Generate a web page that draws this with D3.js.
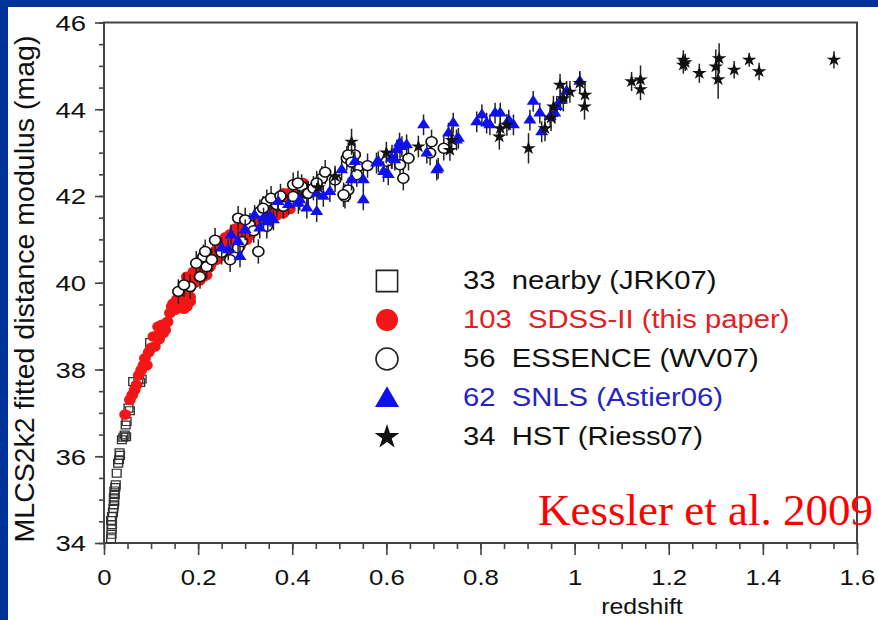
<!DOCTYPE html>
<html>
<head>
  <meta charset="utf-8">
  <title>Hubble diagram - Kessler et al. 2009</title>
  <style>
  body { margin: 0; background: #003399; }
  svg text { font-family: "Liberation Sans", Arial, Helvetica, sans-serif; fill: #111; }
  .tick line { stroke: #444; stroke-width: 1.6px; }
  .domain { display: none; }
  </style>
</head>
<body>
<svg width="878" height="620"></svg>
<script src="https://cdnjs.cloudflare.com/ajax/libs/d3/7.8.5/d3.min.js"></script>
<script>

// ---- data: [redshift, distance modulus] ----
var nearby = [
  [0.015,34.10],[0.016,34.20],[0.016,34.32],[0.017,34.42],[0.015,34.52],[0.017,34.61],[0.019,34.70],
  [0.020,34.80],[0.021,34.88],[0.022,34.96],[0.021,35.04],[0.023,35.12],[0.022,35.20],[0.024,35.28],
  [0.025,35.34],[0.027,35.61],[0.030,35.84],[0.032,35.92],[0.034,36.02],[0.033,36.08],[0.038,36.38],
  [0.041,36.44],[0.044,36.49],[0.047,36.45],[0.048,36.80],[0.046,36.72],[0.052,37.11],[0.055,37.05],
  [0.062,37.72],[0.073,37.76],[0.080,37.78],[0.077,37.70],[0.098,38.62]
];

var sdss = [
  [0.045,36.96],[0.055,37.30],[0.060,37.41],[0.065,37.53],[0.069,37.64],[0.074,37.87],[0.079,37.99],
  [0.084,38.10],[0.087,38.26],[0.091,38.10],[0.105,38.76],[0.108,38.53],[0.115,38.99],[0.119,38.88],
  [0.126,38.84],[0.130,38.91],[0.123,39.03],[0.144,39.45],[0.151,39.38],[0.158,39.53],[0.165,39.45],
  [0.183,39.57],[0.168,39.60],[0.176,39.45],[0.183,39.67],[0.176,40.14],[0.183,40.07],[0.193,40.00],
  [0.197,40.23],[0.208,40.30],[0.211,40.14],[0.218,40.18],[0.225,40.37],[0.218,40.46],[0.239,40.53],
  [0.246,40.60],[0.253,40.99],[0.261,40.91],[0.264,40.76],[0.271,40.99],[0.282,41.06],[0.293,41.06],
  [0.300,41.18],[0.307,41.29],[0.314,41.29],[0.317,41.18],[0.303,40.99],[0.289,40.84],[0.328,41.37],
  [0.331,41.53],[0.353,41.60],[0.381,41.60],[0.388,41.76],[0.392,42.06],[0.402,41.99],[0.423,42.30],
  [0.420,42.06],[0.381,42.06],[0.385,41.91],
  [0.135,39.10],[0.140,39.30],[0.147,39.52],[0.155,39.62],[0.162,39.58],[0.170,39.40],[0.172,39.72],
  [0.180,39.85],[0.186,40.10],[0.190,40.25],[0.195,40.12],[0.200,40.34],[0.203,40.05],[0.206,40.22],
  [0.214,40.30],[0.221,40.55],[0.228,40.45],[0.232,40.70],[0.236,40.62],[0.242,40.85],[0.249,40.78],
  [0.256,40.70],[0.258,41.05],[0.266,40.88],[0.268,41.12],[0.276,41.02],[0.279,41.25],[0.285,41.15],
  [0.296,41.35],[0.310,41.10],[0.322,41.40],[0.336,41.45],[0.342,41.62],[0.348,41.48],[0.360,41.70],
  [0.366,41.55],[0.372,41.82],[0.395,41.70],[0.405,42.20],[0.412,42.12],[0.100,38.50],[0.095,38.40],
  [0.117,38.70],[0.128,39.00]
];

var essence = [
  [0.158,39.80],[0.183,39.91],[0.204,40.14],[0.211,40.60],[0.215,40.72],[0.218,40.37],[0.229,40.53],
  [0.268,40.53],[0.285,40.80],[0.293,40.95],[0.310,41.33],[0.285,41.49],[0.328,40.72],[0.346,41.30],
  [0.346,41.87],[0.331,41.64],[0.367,41.80],[0.381,41.76],[0.402,42.26],[0.420,42.22],[0.431,42.06],
  [0.434,42.06],[0.445,42.18],[0.463,42.41],[0.402,41.99],[0.491,42.37],[0.512,41.99],[0.516,42.87],
  [0.533,42.95],[0.540,42.68],[0.537,42.49],[0.519,42.14],[0.601,42.80],[0.629,42.72],[0.636,42.41],
  [0.647,42.87],[0.696,43.25],[0.693,42.99],[0.509,42.03],[0.519,42.95],
  [0.170,39.95],[0.196,40.45],[0.236,40.98],[0.250,40.70],[0.300,41.45],[0.318,41.20],[0.338,41.72],
  [0.355,41.95],[0.375,42.00],[0.412,42.30],[0.452,42.30],[0.470,42.55],[0.526,42.78],[0.560,42.70],
  [0.612,42.90],[0.722,43.10]
];

var snls = [
  [0.250,40.80],[0.264,40.76],[0.285,40.95],[0.289,40.60],[0.331,41.26],[0.339,41.49],[0.353,41.53],
  [0.360,41.45],[0.370,41.87],[0.413,41.83],[0.431,41.72],[0.452,41.64],[0.452,42.06],[0.466,41.99],
  [0.416,41.91],[0.505,42.60],[0.526,42.37],[0.533,42.79],[0.551,42.37],[0.551,41.91],[0.583,42.79],
  [0.594,42.56],[0.604,42.49],[0.611,42.87],[0.622,43.06],[0.633,43.14],[0.643,43.18],[0.618,42.83],
  [0.679,43.64],[0.686,42.99],[0.707,42.60],[0.732,43.45],[0.742,43.68],[0.753,43.33],[0.792,43.71],
  [0.803,43.87],[0.813,43.68],[0.820,43.64],[0.831,43.91],[0.842,43.91],[0.870,43.64],[0.905,43.75],
  [0.912,44.18],[0.926,43.91],[0.930,43.48],[0.948,43.83],[0.958,43.91],[0.962,44.06],[0.983,44.41],
  [1.011,44.64],
  [0.270,41.10],[0.300,41.22],[0.320,41.55],[0.348,41.40],[0.392,41.80],[0.480,42.10],[0.579,42.76],
  [0.628,43.22],[0.710,42.64],[0.749,43.29],[0.860,43.75],[0.970,44.20]
];

// HST points carry their own error: [z, mu, err]
var hst = [
  [0.526,43.25,0.30],[0.491,42.45,0.25],[0.668,43.14,0.25],[0.735,43.06,0.25],[0.739,43.29,0.30],
  [0.842,43.56,0.25],[0.840,43.37,0.30],[0.856,43.64,0.25],[0.902,43.10,0.35],[0.955,44.06,0.25],
  [0.937,43.56,0.30],[0.969,44.56,0.25],[0.976,44.25,0.30],[1.011,44.60,0.25],[1.022,44.33,0.30],
  [1.021,44.06,0.30],[1.121,44.64,0.22],[1.140,44.68,0.33],[1.140,44.46,0.25],[1.231,45.14,0.22],
  [1.231,45.02,0.20],[1.265,44.83,0.22],[1.300,44.98,0.40],[1.307,45.17,0.35],[1.305,44.69,0.45],
  [1.339,44.91,0.20],[1.371,45.14,0.16],[1.392,44.87,0.20],[1.551,45.14,0.20],
  [0.455,42.20,0.25],[0.600,43.00,0.25],[0.950,43.80,0.30],[0.990,44.40,0.25],[1.235,45.08,0.20]
];

// typical error bar (mag) of the other samples
var sampleErr = [0, 0, 0.28, 0.24];

var legendCounts = ["33", "103", "56", "62", "34"];
var legendNames = ["nearby (JRK07)", "SDSS-II (this paper)", "ESSENCE (WV07)", "SNLS (Astier06)", "HST (Riess07)"];
var legendColors = ["#111", "#e3201d", "#111", "#2424c4", "#111"];

var yTicks = [34, 36, 38, 40, 42, 44, 46];
var xTicks = [0, 0.2, 0.4, 0.6, 0.8, 1, 1.2, 1.4, 1.6];

var RED = "#f21616", BLUE = "#1010ee";

var svg = d3.select("svg");

// slide background + white panel
svg.append("rect").attr("width", 878).attr("height", 620).attr("fill", "#003399");
svg.append("rect").attr("x", 8).attr("y", 7).attr("width", 870).attr("height", 613).attr("fill", "#fff");

var x = d3.scaleLinear().domain([0, 1.6]).range([104, 857]);
var y = d3.scaleLinear().domain([34, 46]).range([543, 22.5]);

// minor ticks
svg.append("g").attr("transform", "translate(104,0)")
    .call(d3.axisLeft(y).tickValues(d3.range(34, 46.01, 0.5)).tickSize(5).tickFormat(""));
svg.append("g").attr("transform", "translate(0,543)")
    .call(d3.axisBottom(x).tickValues(d3.range(0, 1.601, 0.05)).tickSize(6).tickFormat(""));

// major ticks + labels
var yAxis = svg.append("g").attr("transform", "translate(104,0)")
    .call(d3.axisLeft(y).tickValues(yTicks).tickSize(9).tickFormat(d3.format("d")));
yAxis.selectAll("text")
    .attr("x", -18 / 1.25).attr("dy", "0.36em")
    .attr("transform", "scale(1.25,1)")
    .style("font-size", "22px").attr("fill", "#111");

var xAxis = svg.append("g").attr("transform", "translate(0,543)")
    .call(d3.axisBottom(x).tickValues(xTicks).tickSize(12).tickFormat(function(d) { return String(+d.toFixed(1)); }));
xAxis.selectAll("text")
    .attr("y", 42).attr("dy", 0)
    .attr("transform", "scale(1.12,1)")
    .style("font-size", "23px").attr("fill", "#111");

// frame
svg.append("rect")
    .attr("x", x(0)).attr("y", y(46))
    .attr("width", x(1.6) - x(0)).attr("height", y(34) - y(46))
    .attr("fill", "none").attr("stroke", "#444").attr("stroke-width", 2);

// axis titles
svg.append("text")
    .attr("transform", "translate(642,614) scale(1.13,1)")
    .attr("text-anchor", "middle")
    .style("font-size", "22px")
    .text("redshift");

svg.append("text")
    .attr("transform", "translate(34,289) rotate(-90)")
    .attr("text-anchor", "middle")
    .style("font-size", "28.5px")
    .text("MLCS2k2 fitted distance modulus (mag)");

// ---- points ----
var plot = svg.append("g");

function errBars(data, err) {
  plot.append("g").selectAll("line").data(data).enter().append("line")
      .attr("x1", function(d) { return x(d[0]); })
      .attr("x2", function(d) { return x(d[0]); })
      .attr("y1", function(d) { return y(d[1] - (d[2] || err)); })
      .attr("y2", function(d) { return y(d[1] + (d[2] || err)); })
      .attr("stroke", "#222").attr("stroke-width", 1.5);
}

function marks(data, type, size, fill, stroke, sw) {
  plot.append("g").selectAll("path").data(data).enter().append("path")
      .attr("d", d3.symbol().type(type).size(size))
      .attr("transform", function(d) { return "translate(" + x(d[0]) + "," + y(d[1]) + ") scale(1.12,1)"; })
      .attr("fill", fill).attr("stroke", stroke).attr("stroke-width", sw);
}

marks(nearby, d3.symbolSquare, 62, "none", "#333", 1.2);
marks(sdss, d3.symbolCircle, 88, RED, "none", 0);
errBars(essence, sampleErr[2]);
marks(essence, d3.symbolCircle, 76, "#fff", "#111", 1.5);
errBars(snls, sampleErr[3]);
marks(snls, d3.symbolTriangle, 58, BLUE, "none", 0);
errBars(hst, 0);
marks(hst, d3.symbolStar, 54, "#111", "none", 0);

// ---- legend ----
var legendSymbols = [d3.symbolSquare, d3.symbolCircle, d3.symbolCircle, d3.symbolTriangle, d3.symbolStar];
var legendSizes = [450, 380, 380, 250, 190];
var legendFill = ["#fff", RED, "#fff", BLUE, "#111"];
var legendStroke = ["#222", "none", "#222", "none", "none"];

var leg = svg.append("g");
legendCounts.forEach(function(c, i) {
  var yy = 281 + i * 39;
  leg.append("path")
      .attr("d", d3.symbol().type(legendSymbols[i]).size(legendSizes[i]))
      .attr("transform", "translate(387," + (i === 3 ? yy + 2 : yy) + ")")
      .attr("fill", legendFill[i]).attr("stroke", legendStroke[i]).attr("stroke-width", 1.6);
  leg.append("text")
      .attr("transform", "translate(463," + (yy + 8) + ") scale(1.17,1)")
      .style("font-size", "25px")
      .style("white-space", "pre")
      .style("fill", legendColors[i])
      .text(c + "  " + legendNames[i]);
});

// slide annotation
svg.append("text")
    .attr("x", 538).attr("y", 525)
    .style("font-family", "'Liberation Serif', 'Times New Roman', serif")
    .style("font-size", "45px")
    .style("fill", "#ff0000")
    .text("Kessler et al. 2009");

</script>
</body>
</html>
